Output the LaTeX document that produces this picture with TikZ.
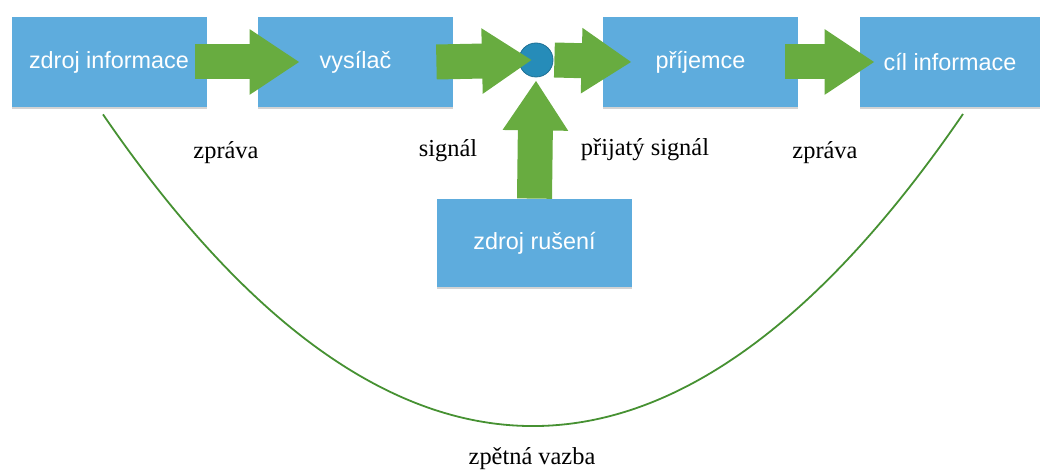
\documentclass[tikz,border=0pt]{standalone}
\usepackage{fontspec}
\setmainfont{Liberation Serif}
\setsansfont{Liberation Sans}
\usetikzlibrary{arrows.meta, shadows}
\definecolor{boxblue}{RGB}{94,172,221}
\definecolor{arrowgreen}{RGB}{104,172,64}
\definecolor{noiseblue}{RGB}{38,140,185}
\definecolor{loopgreen}{RGB}{70,145,50}

\begin{document}
\begin{tikzpicture}[x=0.5pt, y=-0.5pt,
  block/.style={rectangle, fill=boxblue, text=white, font=\sffamily\fontsize{11.7}{14}\selectfont,
    minimum width=97.5pt, minimum height=45pt, inner sep=0pt,
    drop shadow={opacity=0.35, shadow xshift=0pt, shadow yshift=-1.2pt}},
  flow/.style={draw=arrowgreen, line width=17.5pt,
    -{Triangle[length=25pt, width=31pt, fill=arrowgreen]}},
  lbl/.style={font=\fontsize{12.2}{14}\selectfont}]
  \useasboundingbox (0,0) rectangle (1045,470);
  % boxes
  \node[block] (zi) at (109,62)   {zdroj informace};
  \node[block] (vy) at (355.5,62) {vysílač};
  \node[block] (pr) at (700.5,62) {příjemce};
  \node[block, minimum width=90pt] (ci) at (950,62) {cíl informace};
  \node[block, minimum height=44pt] (zr) at (534.5,243) {zdroj rušení};
  % noise point
  \node[circle, fill=noiseblue, draw=noiseblue!80!black, line width=0.4pt,
    minimum size=17pt, inner sep=0pt] (ns) at (536,60) {};
  % arrows
  \draw[flow] ([xshift=-6pt]zi.east) -- ([xshift=21pt]vy.west);
  \draw[flow] ([xshift=-8.5pt]vy.east) -- ([xshift=-2pt]ns.center);
  \draw[flow] ([xshift=0.5pt]ns.east) -- ([xshift=14.5pt]pr.west);
  \draw[flow] (zr.north) -- ([yshift=-1.5pt]ns.south);
  \draw[flow] ([xshift=-6.5pt]pr.east) -- ([xshift=7.5pt]ci.west);
  % labels
  \node[lbl] (m1) at (226,153) {zpráva};
  \node[lbl] (m2) at (448,151) {signál};
  \node[lbl] (m3) at (645,150) {přijatý signál};
  \node[lbl] (m4) at (825,153) {zpráva};
  \node[lbl] (fb) at (532,459) {zpětná vazba};
  % feedback
  \coordinate (fs) at ([xshift=-3pt, yshift=-3.5pt]zi.south);
  \coordinate (fe) at (963,114);
  \draw[loopgreen, line width=0.9pt] (fs) .. controls (388,530) and (678,530) .. (fe);
\end{tikzpicture}
\end{document}
